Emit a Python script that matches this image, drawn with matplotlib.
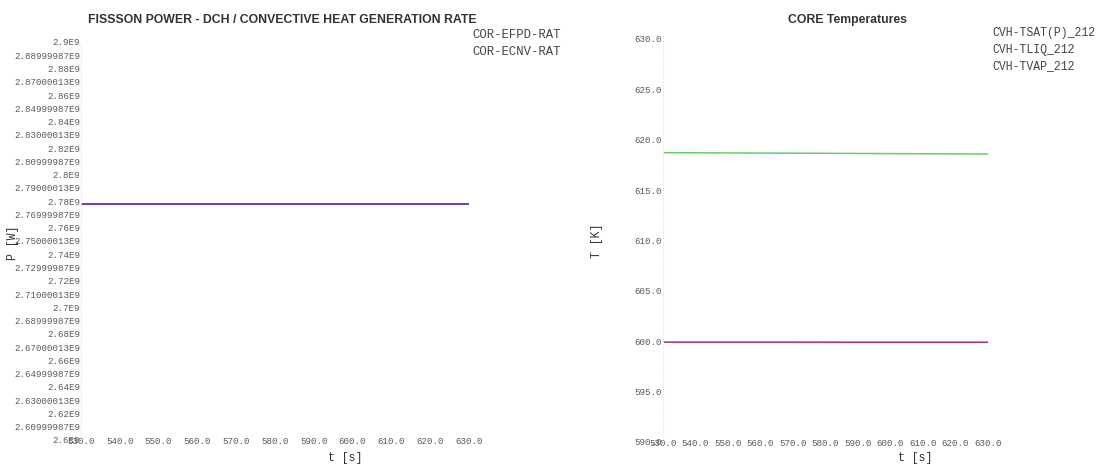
import matplotlib
matplotlib.use("Agg")
import matplotlib.pyplot as plt

# Time base [s]
time_s = [530.0, 550.0, 570.0, 590.0, 610.0, 630.0]

# Core power [W]
cor_efpd_rat = [2.7776e9, 2.7776e9, 2.7776e9, 2.7776e9, 2.7776e9, 2.7776e9]
cor_ecnv_rat = [2.7777e9, 2.7777e9, 2.7777e9, 2.7777e9, 2.7777e9, 2.7777e9]

# Core temperatures [K]
cvh_tsat = [618.72, 618.69, 618.67, 618.64, 618.61, 618.58]
cvh_tliq = [599.90, 599.90, 599.90, 599.89, 599.89, 599.89]
cvh_tvap = [599.91, 599.91, 599.91, 599.90, 599.90, 599.90]

x_ticks = [530, 540, 550, 560, 570, 580, 590, 600, 610, 620, 630]
x_labels = ["530.0", "540.0", "550.0", "560.0", "570.0", "580.0",
            "590.0", "600.0", "610.0", "620.0", "630.0"]

p_ticks = [2.6e9 + i * 0.01e9 for i in range(31)]
p_labels = ["2.6E9", "2.60999987E9", "2.62E9", "2.63000013E9", "2.64E9",
            "2.64999987E9", "2.66E9", "2.67000013E9", "2.68E9", "2.68999987E9",
            "2.7E9", "2.71000013E9", "2.72E9", "2.72999987E9", "2.74E9",
            "2.75000013E9", "2.76E9", "2.76999987E9", "2.78E9", "2.79000013E9",
            "2.8E9", "2.80999987E9", "2.82E9", "2.83000013E9", "2.84E9",
            "2.84999987E9", "2.86E9", "2.87000013E9", "2.88E9", "2.88999987E9",
            "2.9E9"]

t_ticks = [590, 595, 600, 605, 610, 615, 620, 625, 630]
t_labels = ["590.0", "595.0", "600.0", "605.0", "610.0", "615.0",
            "620.0", "625.0", "630.0"]

W, H = 1107, 466
fig = plt.figure(figsize=(W / 100, H / 100), dpi=100)
fig.patch.set_facecolor("white")

mono = ["Liberation Mono", "DejaVu Sans Mono"]
sans = ["Liberation Sans", "DejaVu Sans"]
tick_color = "#5a5a5a"
text_color = "#333333"


def px_axes(x0, x1, y_top, y_bot):
    return fig.add_axes([x0 / W, (H - y_bot) / H, (x1 - x0) / W, (y_bot - y_top) / H])


def fy(y):
    return 1 - y / H


def style(ax):
    for s in ("top", "right", "bottom"):
        ax.spines[s].set_visible(False)
    ax.spines["left"].set_color("#ececec")
    ax.spines["left"].set_linestyle((0, (1, 2)))
    ax.spines["left"].set_linewidth(0.8)
    ax.tick_params(axis="both", length=0, colors=tick_color, labelsize=6.6)
    ax.tick_params(axis="x", pad=-2.5)
    ax.tick_params(axis="y", pad=0.5)
    for lab in ax.get_xticklabels() + ax.get_yticklabels():
        lab.set_family(mono)


# Left panel: fission power
ax1 = px_axes(81, 469, 42, 440)
ax1.plot(time_s, cor_efpd_rat, color="#d0307a", lw=1.1)
ax1.plot(time_s, cor_ecnv_rat, color="#3a2ae8", lw=1.1, alpha=0.85)
ax1.set_xlim(530, 630)
ax1.set_ylim(2.6e9, 2.9e9)
ax1.set_xticks(x_ticks, x_labels)
ax1.set_yticks(p_ticks, p_labels)
style(ax1)
fig.text(282 / W, fy(20), "FISSSON POWER - DCH / CONVECTIVE HEAT GENERATION RATE",
         ha="center", va="center", fontsize=8.8, fontweight="bold",
         family=sans, color="#333333")
fig.text(13 / W, fy(243), "P [W]", rotation=90, ha="center", va="center",
         fontsize=8.3, family=mono, color=text_color)
fig.text(345 / W, fy(458), "t [s]", ha="center", va="center",
         fontsize=8.3, family=mono, color=text_color)
for i, name in enumerate(["COR-EFPD-RAT", "COR-ECNV-RAT"]):
    fig.text(472 / W, fy(35 + 17 * i), name, ha="left", va="center",
             fontsize=8.8, family=mono, color="#444444")

# Right panel: core temperatures
ax2 = px_axes(663, 988, 39, 442)
ax2.plot(time_s, cvh_tsat, color="#60d060", lw=1.1)
ax2.plot(time_s, cvh_tliq, color="#e070b0", lw=1.1)
ax2.plot(time_s, cvh_tvap, color="#a0307a", lw=1.0, alpha=0.9)
ax2.set_xlim(530, 630)
ax2.set_ylim(590, 630)
ax2.set_xticks(x_ticks, x_labels)
ax2.set_yticks(t_ticks, t_labels)
style(ax2)
fig.text(847 / W, fy(20), "CORE Temperatures", ha="center", va="center",
         fontsize=8.8, fontweight="bold", family=sans, color="#333333")
fig.text(597 / W, fy(241), "T [K]", rotation=90, ha="center", va="center",
         fontsize=8.3, family=mono, color=text_color)
fig.text(915 / W, fy(458), "t [s]", ha="center", va="center",
         fontsize=8.3, family=mono, color=text_color)
for i, name in enumerate(["CVH-TSAT(P)_212", "CVH-TLIQ_212", "CVH-TVAP_212"]):
    fig.text(992 / W, fy(33 + 16.5 * i), name, ha="left", va="center",
             fontsize=8.3, family=mono, color="#444444")

fig.savefig("out.png", dpi=100, facecolor="white")
